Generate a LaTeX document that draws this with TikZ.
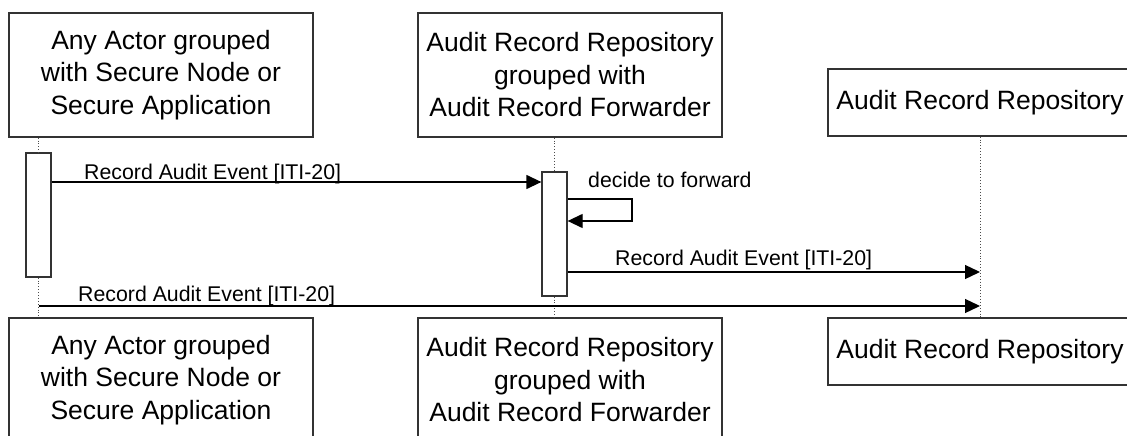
\documentclass[tikz,border=0pt]{standalone}
\usepackage{fontspec}
\setmainfont{Liberation Sans}
\usetikzlibrary{arrows.meta}
\begin{document}
\begin{tikzpicture}[x=1pt,y=-1pt,
  lifebox/.style={draw=black!80, line width=1.3pt, fill=white, minimum width=304pt, inner sep=0pt, align=center, font=\fontsize{26.5}{32.5}\selectfont},
  actbar/.style={draw=black!80, line width=1.3pt, fill=white, minimum width=25pt, minimum height=124pt, inner sep=0pt},
  lifeline/.style={draw=black!70, line width=0.9pt, dotted},
  msg/.style={draw=black, line width=1.3pt, -{Triangle[length=15pt,width=14pt]}},
  lbl/.style={anchor=base west, inner sep=0pt, font=\fontsize{21.3}{25}\selectfont}]
\useasboundingbox (0,0) rectangle (1127,436);
\clip (0,0) rectangle (1127,436);
% message levels
\coordinate (m1) at (0,182);
\coordinate (s1) at (632,199);
\coordinate (s2) at (632,221);
\coordinate (m2) at (0,272);
\coordinate (m3) at (0,306);
% top boxes
\node[lifebox, minimum height=124pt] (A) at (161,75) {Any Actor grouped\\with Secure Node or\\Secure Application};
\node[lifebox, minimum height=124pt] (B) at (570,75) {Audit Record Repository\\grouped with\\Audit Record Forwarder};
\node[lifebox, minimum height=67pt] (C) at (980,102.5) {Audit Record Repository};
% bottom boxes
\node[lifebox, minimum height=124pt] (A2) at (161,380) {Any Actor grouped\\with Secure Node or\\Secure Application};
\node[lifebox, minimum height=124pt] (B2) at (570,380) {Audit Record Repository\\grouped with\\Audit Record Forwarder};
\node[lifebox, minimum height=67pt] (C2) at (980,351.5) {Audit Record Repository};
% activation bars
\node[actbar] (barA) at (38.5,215) {};
\node[actbar] (barB) at (554.5,234) {};
% lifelines
\draw[lifeline] (barA.north |- A.south) -- (barA.north);
\draw[lifeline] (barA.south) -- (barA.south |- A2.north);
\draw[lifeline] (barB.north |- B.south) -- (barB.north);
\draw[lifeline] (barB.south) -- (barB.south |- B2.north);
\draw[lifeline] (C.south) -- (C2.north);
% messages
\draw[msg] (barA.east |- m1) -- (barB.west |- m1);
\node[lbl] (l1) at (84,179) {Record Audit Event [ITI-20]};
\draw[msg] (barB.east |- s1) -- (s1) -- (s2) -- (barB.east |- s2);
\node[lbl] (l2) at (588,187) {decide to forward};
\draw[msg] (barB.east |- m2) -- (C.south |- m2);
\node[lbl] (l3) at (615,265) {Record Audit Event [ITI-20]};
\draw[msg] (barA.south |- m3) -- (C.south |- m3);
\node[lbl] (l4) at (78,301) {Record Audit Event [ITI-20]};
\end{tikzpicture}
\end{document}
